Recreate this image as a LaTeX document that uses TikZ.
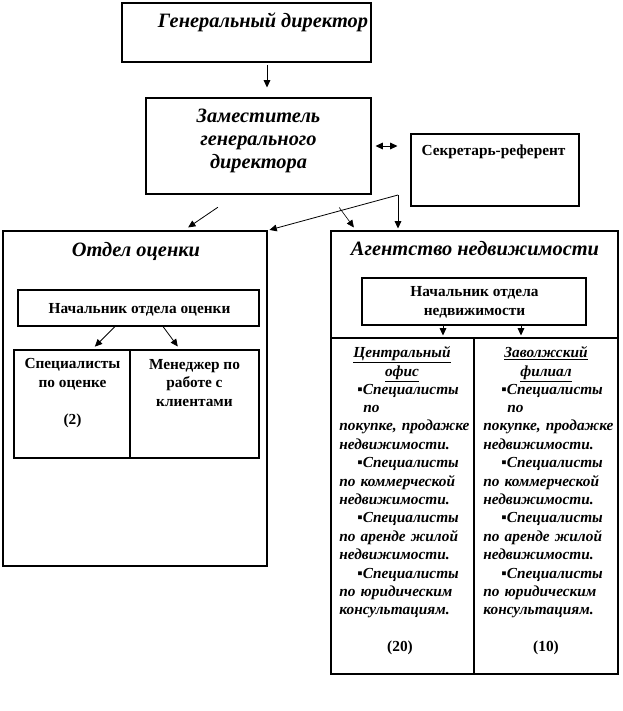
\documentclass[tikz,border=0pt]{standalone}
\usepackage{fontspec}
\setmainfont{Liberation Serif}
\usetikzlibrary{fit,arrows.meta}
\tikzset{
    box/.style={draw,line width=0.8pt,inner sep=0pt,fit={#1}},
    title/.style={font=\fontsize{15.3}{17.25}\selectfont\bfseries\itshape,inner sep=0pt,align=center},
    small/.style={font=\fontsize{11.5}{13.8}\selectfont\bfseries,inner sep=0pt,align=center},
    head/.style={font=\fontsize{11.5}{13.8}\selectfont\bfseries\itshape,inner sep=0pt,align=center},
    list/.style={font=\fontsize{11.5}{13.8}\selectfont\bfseries\itshape,inner sep=0pt,align=left,text width=104pt}
}
\begin{document}
\begin{tikzpicture}[x=0.75pt,y=-0.75pt,line width=0.6pt,>={Triangle[length=5.5pt,width=5pt]}]
            \useasboundingbox (0,0) rectangle (622,711);
            \node[box={(122,3) (371,62)}] (gd) {};
            \node[box={(146,98) (371,194)}] (zam) {};
            \node[box={(411,134) (579,206)}] (sec) {};
            \node[box={(3,231) (267,566)}] (otd) {};
            \node[box={(18,290) (259,326)}] (noc) {};
            \node[box={(14,350) (130,458)}] (spec) {};
            \node[box={(130,350) (259,458)}] (man) {};
            \node[box={(331,231) (618,674)}] (agn) {};
            \node[box={(362,278) (586,325)}] (nn) {};
            \node[box={(331,338) (474,674)}] (cen) {};
            \node[box={(474,338) (618,674)}] (zav) {};
            \node[title,anchor=base] (gdt) at (263,27) {Генеральный директор};
            \node[title,anchor=base] (zamt) at (258.5,168) {Заместитель\\генерального\\директора};
            \node[small,anchor=base] (sect) at (493.5,155) {Секретарь-референт};
            \node[title,anchor=base] (otdt) at (136,256) {Отдел оценки};
            \node[title,anchor=base] (agnt) at (475,255) {Агентство недвижимости};
            \node[small,anchor=base] (noct) at (139.5,313) {Начальник отдела оценки};
            \node[small,anchor=base] (spect) at (72.5,424) {Специалисты\\по оценке\\[13.8pt](2)};
            \node[small,anchor=base] (mant) at (194.5,406) {Менеджер по\\работе с\\клиентами};
            \node[small,anchor=base] (nnt) at (474.5,315) {Начальник отдела\\недвижимости};
            \node[head,anchor=base] (cenh) at (402,376) {\underline{Центральный}\\\underline{офис}};
            \node[head,anchor=base] (zavh) at (546,376) {\underline{Заволжский}\\\underline{филиал}};
            \foreach \col/\x in {cen/339,zav/483}{
                \node[list,anchor=base west] (\col l) at (\x,394) {\hspace*{13.5pt}▪Специалисты\\\hspace*{18pt}по\\покупке, продажке\\недвижимости.\\\hspace*{13.5pt}▪Специалисты\\по коммерческой\\недвижимости.\\\hspace*{13.5pt}▪Специалисты\\по аренде жилой\\недвижимости.\\\hspace*{13.5pt}▪Специалисты\\по юридическим\\консультациям.};
            }
            \node[small,anchor=base] (cenn) at (400,651) {(20)};
            \node[small,anchor=base] (zavn) at (546,651) {(10)};
            \coordinate (split) at (398,195);
            \draw[->,shorten <=2pt,shorten >=7.5pt] (gd.south -| 267,0)--(zam.north -| 267,0);
            \draw[<->,shorten <=3pt,shorten >=9.75pt] (zam.east)--(zam.east -| sec.west);
            \draw[->,shorten <=17pt,shorten >=4pt] (zam.south -| 236.6,0)--(otd.north -| 183.7,0);
            \draw[->,line width=0.45pt,shorten <=12pt,shorten >=2.8pt] (zam.south -| 329.7,0)--(agn.north -| 356.1,0);
            \draw[->,shorten >=1.5pt] (split)--(split |- agn.north);
            \draw[->,shorten >=1.5pt] (split)--(otd.north east);
            \draw[->,shorten >=3pt] (noc.south -| 115,0)--(spec.north -| 92,0);
            \draw[->,shorten >=2.8pt] (noc.south -| 163,0)--(man.north -| 180,0);
            \draw[->,shorten >=1.5pt] (nn.south -| 443,0)--(cen.north -| 443,0);
            \draw[->,shorten >=1.5pt] (nn.south -| 521,0)--(zav.north -| 521,0);
        \end{tikzpicture}
\end{document}
